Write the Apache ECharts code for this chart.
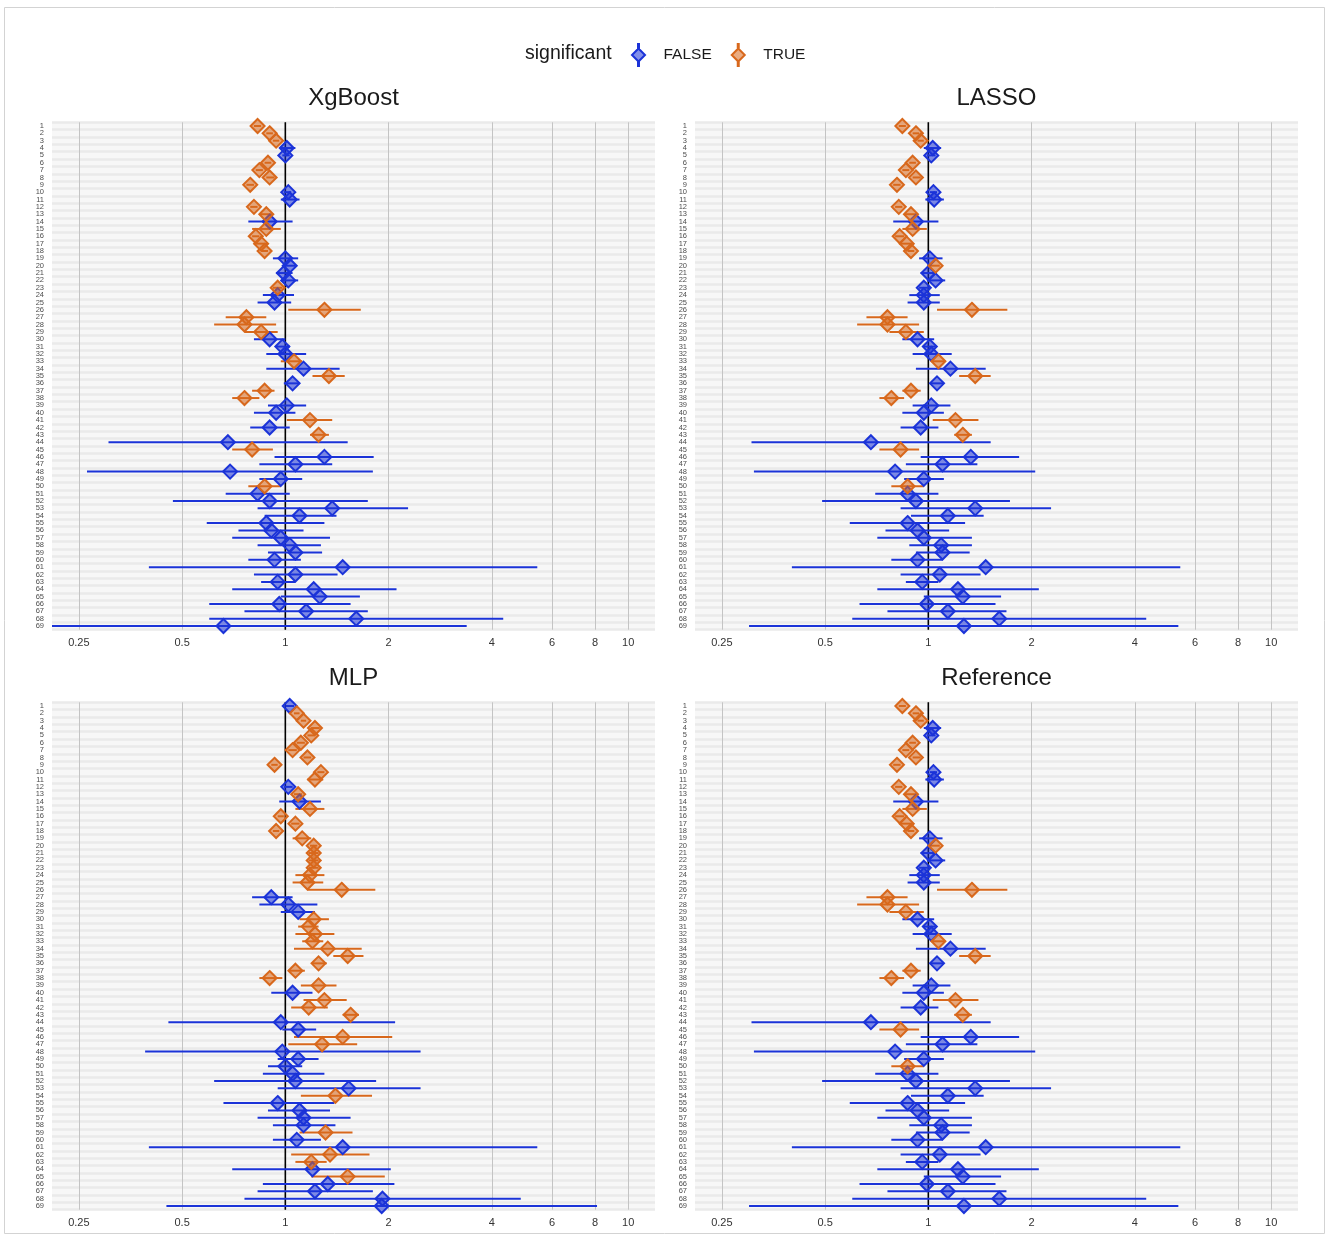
<!DOCTYPE html>
<html><head><meta charset="utf-8">
<script src="https://cdn.jsdelivr.net/npm/echarts@6/dist/echarts.min.js"></script>
<style>html,body{margin:0;padding:0;background:#fff}#c{width:1328px;height:1236px}</style>
</head><body><div id="c"></div>
<script>
// ---------- data ----------
const rows = ['1','2','3','4','5','6','7','8','9','10','11','12','13','14','15','16','17','18','19','20','21','22','23','24','25','26','27','28','29','30','31','32','33','34','35','36','37','38','39','40','41','42','43','44','45','46','47','48','49','50','51','52','53','54','55','56','57','58','59','60','61','62','63','64','65','66','67','68','69'];
const xTicks = [0.25, 0.5, 1, 2, 4, 6, 8, 10];
const refLine = [1];

const xgbEst = [0.83,0.90,0.94,1.01,1.00,0.89,0.84,0.90,0.79,1.02,1.03,0.81,0.88,0.90,0.88,0.82,0.85,0.87,1.00,1.03,0.99,1.02,0.95,0.95,0.93,1.30,0.77,0.76,0.85,0.90,0.98,1.00,1.06,1.13,1.34,1.05,0.87,0.76,1.01,0.94,1.18,0.90,1.25,0.68,0.80,1.30,1.07,0.69,0.97,0.87,0.83,0.90,1.37,1.10,0.88,0.91,0.97,1.03,1.07,0.93,1.47,1.07,0.95,1.21,1.26,0.96,1.15,1.61,0.66];
const xgbLo  = [0.81,0.88,0.92,0.97,0.98,0.87,0.82,0.88,0.77,0.99,0.97,0.79,0.84,0.78,0.80,0.80,0.81,0.85,0.92,0.99,0.94,0.97,0.92,0.86,0.83,1.02,0.67,0.62,0.76,0.81,0.94,0.88,0.97,0.88,1.20,0.99,0.80,0.70,0.89,0.81,1.01,0.79,1.18,0.305,0.70,0.93,0.84,0.264,0.84,0.78,0.67,0.47,0.83,0.87,0.59,0.73,0.70,0.83,0.89,0.78,0.40,0.81,0.85,0.70,0.97,0.60,0.76,0.60,0.20];
const xgbHi  = [0.85,0.92,0.96,1.07,1.03,0.91,0.86,0.93,0.81,1.04,1.10,0.83,0.92,1.05,0.97,0.84,0.89,0.89,1.09,1.07,1.05,1.09,0.98,1.06,1.04,1.66,0.88,0.94,0.95,1.00,1.03,1.15,1.12,1.44,1.49,1.10,0.93,0.84,1.15,1.07,1.37,1.03,1.34,1.52,0.92,1.81,1.37,1.80,1.12,0.97,1.03,1.74,2.28,1.41,1.30,1.13,1.35,1.27,1.28,1.11,5.43,1.42,1.07,2.11,1.65,1.55,1.74,4.32,3.38];
const xgbSig = [1,1,1,0,0,1,1,1,1,0,0,1,1,0,1,1,1,1,0,0,0,0,1,0,0,1,1,1,1,0,0,0,1,0,1,0,1,1,0,0,1,0,1,0,1,0,0,0,0,1,0,0,0,0,0,0,0,0,0,0,0,0,0,0,0,0,0,0,0];

const lassoEst = [0.84,0.92,0.95,1.03,1.02,0.90,0.86,0.92,0.81,1.035,1.04,0.82,0.89,0.92,0.90,0.825,0.865,0.89,1.01,1.05,1.00,1.05,0.97,0.97,0.97,1.34,0.76,0.76,0.86,0.93,1.01,1.02,1.07,1.16,1.37,1.06,0.89,0.78,1.02,0.97,1.20,0.95,1.26,0.68,0.83,1.33,1.10,0.80,0.97,0.87,0.87,0.92,1.37,1.14,0.87,0.93,0.97,1.09,1.10,0.93,1.47,1.08,0.96,1.22,1.26,0.99,1.14,1.61,1.27];
const lassoLo  = [0.82,0.90,0.93,0.97,0.99,0.88,0.84,0.90,0.79,1.01,0.98,0.80,0.85,0.79,0.84,0.80,0.83,0.87,0.94,1.01,0.95,0.99,0.94,0.88,0.87,1.06,0.66,0.62,0.77,0.84,0.97,0.90,1.02,0.92,1.23,1.01,0.84,0.72,0.90,0.84,1.03,0.83,1.19,0.305,0.72,0.95,0.86,0.31,0.85,0.78,0.70,0.49,0.83,0.89,0.59,0.75,0.71,0.88,0.92,0.78,0.40,0.83,0.86,0.71,0.97,0.63,0.76,0.60,0.30];
const lassoHi  = [0.86,0.94,0.97,1.09,1.05,0.92,0.88,0.95,0.83,1.06,1.11,0.84,0.93,1.07,0.99,0.85,0.90,0.91,1.10,1.08,1.06,1.12,1.01,1.08,1.08,1.70,0.87,0.94,0.97,1.04,1.05,1.17,1.12,1.47,1.52,1.11,0.95,0.85,1.16,1.11,1.40,1.07,1.34,1.52,0.94,1.84,1.39,2.05,1.11,0.97,1.07,1.73,2.28,1.45,1.28,1.15,1.34,1.34,1.32,1.10,5.43,1.42,1.07,2.10,1.63,1.57,1.69,4.32,5.36];
const lassoSig = [1,1,1,0,0,1,1,1,1,0,0,1,1,0,1,1,1,1,0,1,0,0,0,0,0,1,1,1,1,0,0,0,1,0,1,0,1,1,0,0,1,0,1,0,1,0,0,0,0,1,0,0,0,0,0,0,0,0,0,0,0,0,0,0,0,0,0,0,0];

const mlpEst = [1.03,1.08,1.13,1.22,1.19,1.11,1.05,1.16,0.93,1.27,1.22,1.02,1.09,1.10,1.18,0.97,1.07,0.94,1.12,1.21,1.21,1.21,1.21,1.18,1.16,1.46,0.91,1.02,1.09,1.21,1.17,1.22,1.20,1.33,1.52,1.25,1.07,0.90,1.25,1.05,1.30,1.17,1.55,0.97,1.09,1.47,1.28,0.98,1.09,1.00,1.05,1.07,1.53,1.40,0.95,1.10,1.13,1.13,1.31,1.08,1.47,1.35,1.19,1.20,1.52,1.33,1.22,1.92,1.91];
const mlpLo  = [1.00,1.06,1.11,1.19,1.16,1.08,1.02,1.13,0.91,1.24,1.16,0.99,1.06,0.96,1.07,0.95,1.04,0.92,1.05,1.18,1.17,1.17,1.17,1.07,1.05,1.16,0.80,0.84,0.97,1.10,1.09,1.07,1.12,1.06,1.38,1.20,1.02,0.84,1.11,0.91,1.13,1.04,1.47,0.456,0.98,1.06,1.02,0.39,0.95,0.89,0.86,0.62,0.95,1.11,0.66,0.89,0.83,0.92,1.10,0.92,0.40,1.04,1.07,0.70,1.19,0.86,0.83,0.76,0.45];
const mlpHi  = [1.06,1.10,1.15,1.26,1.22,1.14,1.08,1.19,0.95,1.30,1.29,1.05,1.12,1.27,1.30,0.99,1.10,0.96,1.19,1.24,1.25,1.25,1.25,1.30,1.29,1.83,1.05,1.24,1.22,1.34,1.25,1.39,1.29,1.67,1.69,1.32,1.14,0.98,1.41,1.20,1.51,1.33,1.64,2.09,1.23,2.05,1.62,2.48,1.25,1.12,1.30,1.84,2.48,1.79,1.39,1.35,1.55,1.40,1.57,1.27,5.43,1.76,1.32,2.03,1.95,2.08,1.80,4.86,8.11];
const mlpSig = [0,1,1,1,1,1,1,1,1,1,1,0,1,0,1,1,1,1,1,1,1,1,1,1,1,1,0,0,0,1,1,1,1,1,1,1,1,1,1,0,1,1,1,0,0,1,1,0,0,0,0,0,0,1,0,0,0,0,1,0,0,1,1,0,1,0,0,0,0];

const refEst = [0.84,0.92,0.95,1.03,1.02,0.90,0.86,0.92,0.81,1.035,1.04,0.82,0.89,0.92,0.90,0.825,0.865,0.89,1.01,1.05,1.00,1.05,0.97,0.97,0.97,1.34,0.76,0.76,0.86,0.93,1.01,1.02,1.07,1.16,1.37,1.06,0.89,0.78,1.02,0.97,1.20,0.95,1.26,0.68,0.83,1.33,1.10,0.80,0.97,0.87,0.87,0.92,1.37,1.14,0.87,0.93,0.97,1.09,1.10,0.93,1.47,1.08,0.96,1.22,1.26,0.99,1.14,1.61,1.27];
const refLo  = [0.82,0.90,0.93,0.97,0.99,0.88,0.84,0.90,0.79,1.01,0.98,0.80,0.85,0.79,0.84,0.80,0.83,0.87,0.94,1.01,0.95,0.99,0.94,0.88,0.87,1.06,0.66,0.62,0.77,0.84,0.97,0.90,1.02,0.92,1.23,1.01,0.84,0.72,0.90,0.84,1.03,0.83,1.19,0.305,0.72,0.95,0.86,0.31,0.85,0.78,0.70,0.49,0.83,0.89,0.59,0.75,0.71,0.88,0.92,0.78,0.40,0.83,0.86,0.71,0.97,0.63,0.76,0.60,0.30];
const refHi  = [0.86,0.94,0.97,1.09,1.05,0.92,0.88,0.95,0.83,1.06,1.11,0.84,0.93,1.07,0.99,0.85,0.90,0.91,1.10,1.08,1.06,1.12,1.01,1.08,1.08,1.70,0.87,0.94,0.97,1.04,1.05,1.17,1.12,1.47,1.52,1.11,0.95,0.85,1.16,1.11,1.40,1.07,1.34,1.52,0.94,1.84,1.39,2.05,1.11,0.97,1.07,1.73,2.28,1.45,1.28,1.15,1.34,1.34,1.32,1.10,5.43,1.42,1.07,2.10,1.63,1.57,1.69,4.32,5.36];
const refSig = [1,1,1,0,0,1,1,1,1,0,0,1,1,0,1,1,1,1,0,1,0,0,0,0,0,1,1,1,1,0,0,0,1,0,1,0,1,1,0,0,1,0,1,0,1,0,0,0,0,1,0,0,0,0,0,0,0,0,0,0,0,0,0,0,0,0,0,0,0];

// ---------- styling / layout ----------
const FONT = '"Liberation Sans", Arial, Helvetica, sans-serif';
const groups = [
  {name: 'FALSE', stroke: '#1b33d8', fill: 'rgba(27,51,216,0.55)'},
  {name: 'TRUE',  stroke: '#d8681c', fill: 'rgba(216,104,28,0.55)'}
];
const panels = [
  {title: 'XgBoost',   est: xgbEst,   lo: xgbLo,   hi: xgbHi,   sig: xgbSig,   left: 52,  top: 122.3},
  {title: 'LASSO',     est: lassoEst, lo: lassoLo, hi: lassoHi, sig: lassoSig, left: 695, top: 122.3},
  {title: 'MLP',       est: mlpEst,   lo: mlpLo,   hi: mlpHi,   sig: mlpSig,   left: 52,  top: 702.3},
  {title: 'Reference', est: refEst,   lo: refLo,   hi: refHi,   sig: refSig,   left: 695, top: 702.3}
];
const W = 603, H = 507.4;
const xMin = 0.2087, xMax = 11.97;

const grid = [], xAxis = [], yAxis = [], series = [];
const graphic = [
  {type: 'rect', shape: {x: 4.5, y: 7.5, width: 1320, height: 1226}, style: {fill: 'none', stroke: '#d3d3d3', lineWidth: 1}, silent: true, z: -10},
  {type: 'text', x: 525, y: 54, style: {text: 'significant', font: '19.5px ' + FONT, fill: '#1a1a1a', textVerticalAlign: 'middle'}}
];

function clampX(cs, x) { return Math.max(cs.x, Math.min(cs.x + cs.width, x)); }

function renderBar(params, api) {
  const cs = params.coordSys;
  const yi = api.value(2);
  const p1 = api.coord([api.value(0), yi]);
  const p2 = api.coord([api.value(1), yi]);
  return {
    type: 'line',
    shape: {x1: clampX(cs, p1[0]), y1: p1[1], x2: clampX(cs, p2[0]), y2: p2[1]},
    style: {stroke: api.visual('color'), lineWidth: 2}
  };
}
function renderRef(params, api) {
  const cs = params.coordSys;
  const p = api.coord([api.value(0), 0]);
  return {
    type: 'line',
    shape: {x1: p[0], y1: cs.y, x2: p[0], y2: cs.y + cs.height},
    style: {stroke: '#000000', lineWidth: 1.6}
  };
}

// scatter series first so the legend reads its style
panels.forEach((p, i) => {
  groups.forEach((g, gi) => {
    const pts = [];
    p.est.forEach((v, r) => { if (p.sig[r] === gi) pts.push([v, r]); });
    series.push({
      type: 'scatter', name: g.name, xAxisIndex: i, yAxisIndex: i,
      data: pts, symbol: 'diamond', symbolSize: 14,
      itemStyle: {color: g.fill, borderColor: g.stroke, borderWidth: 2, opacity: 1},
      z: 4, animation: false, silent: true
    });
  });
});

panels.forEach((p, i) => {
  grid.push({left: p.left, top: p.top, width: W, height: H, show: true,
             backgroundColor: '#f7f7f7', borderWidth: 0});
  xAxis.push({
    type: 'log', logBase: 2, gridIndex: i, min: xMin, max: xMax,
    axisLine: {show: false},
    axisTick: {show: false, customValues: xTicks},
    axisLabel: {customValues: xTicks, formatter: v => String(v), fontSize: 11,
                color: '#333333', margin: 8, fontFamily: FONT},
    splitLine: {show: true, lineStyle: {color: '#c4c4c4', width: 1}},
    minorSplitLine: {show: false}
  });
  yAxis.push({
    type: 'category', gridIndex: i, data: rows, inverse: true,
    axisLine: {show: false}, axisTick: {show: false},
    axisLabel: {interval: 0, fontSize: 7.5, color: '#4d4d4d', margin: 8, fontFamily: FONT},
    splitLine: {show: true, interval: 0, lineStyle: {color: '#eaeaea', width: 2.5}}
  });
  graphic.push({type: 'text', x: p.left + W / 2, y: p.top - 23.5,
    style: {text: p.title, font: '24px ' + FONT, fill: '#1a1a1a', textAlign: 'center', textVerticalAlign: 'middle'}});

  series.push({
    type: 'custom', name: 'ref', xAxisIndex: i, yAxisIndex: i,
    data: refLine.map(v => [v, 0]), encode: {x: 0, y: 1},
    renderItem: renderRef, z: 2, silent: true, animation: false
  });
  groups.forEach((g, gi) => {
    const bars = [];
    p.est.forEach((v, r) => { if (p.sig[r] === gi) bars.push([p.lo[r], p.hi[r], r]); });
    series.push({
      type: 'custom', name: g.name, xAxisIndex: i, yAxisIndex: i,
      data: bars, encode: {x: [0, 1], y: 2},
      itemStyle: {color: g.stroke},
      renderItem: renderBar, z: 3, silent: true, animation: false
    });
  });
});

const iconPath = 'path://M6.5 4.5L13 11L6.5 17.5L0 11ZM6 0L7 0L7 4.5L6 4.5ZM6 17.5L7 17.5L7 22L6 22Z';

const option = {
  backgroundColor: '#ffffff',
  animation: false,
  textStyle: {fontFamily: FONT},
  legend: {
    data: [{name: 'FALSE', icon: iconPath}, {name: 'TRUE', icon: iconPath}],
    left: 626, top: 38, itemWidth: 40, itemHeight: 22, itemGap: 19,
    selectedMode: false,
    textStyle: {fontSize: 15.5, color: '#1a1a1a', fontFamily: FONT}
  },
  grid, xAxis, yAxis, series, graphic
};

const chart = echarts.init(document.getElementById('c'), null, {renderer: 'canvas'});
chart.setOption(option);
</script>
</body></html>
